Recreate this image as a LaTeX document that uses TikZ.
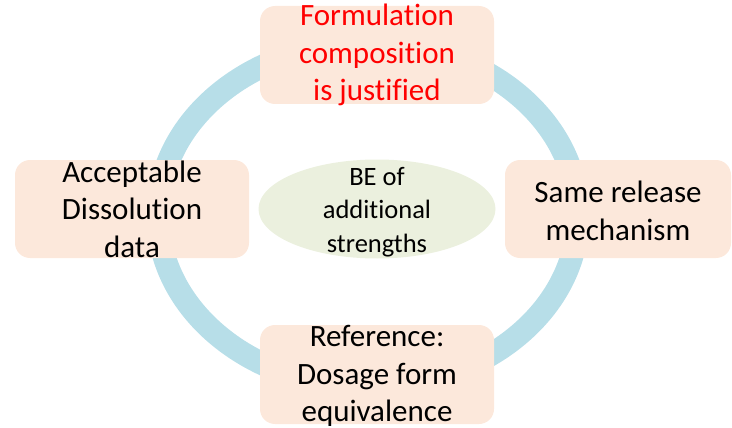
\documentclass[tikz,border=0pt]{standalone}
\usepackage{fontspec}
\setmainfont{Carlito}[Ligatures=NoCommon]
\usetikzlibrary{shapes.geometric}
\definecolor{ringblue}{RGB}{183,222,232}
\definecolor{peach}{RGB}{252,232,219}
\definecolor{sage}{RGB}{235,240,222}
\newcommand\stacklines[1]{\vbox{\halign{\hfil##\hfil\cr#1\crcr}}}
\begin{document}
\begin{tikzpicture}[x=1pt,y=-1pt,
  stepbox/.style={rectangle, rounded corners=15pt, fill=peach, inner sep=0pt,
    minimum width=234pt, minimum height=98pt, text depth=0pt,
    font=\fontsize{31}{37.5}\selectfont},
  hub/.style={ellipse, fill=sage, inner sep=0pt, minimum width=237pt, minimum height=99pt},
  hubtext/.style={inner sep=0pt, text depth=0pt, font=\fontsize{26.5}{33.5}\selectfont}]
\useasboundingbox (0,0) rectangle (732,428);
\draw[ringblue, line width=23pt] (368,215) ellipse [x radius=210pt, y radius=172pt];
\node[stepbox, text=red, text height=92pt] (form) at (377,55)
  {\stacklines{Formulation\cr composition\cr is justified}};
\node[stepbox, text height=96pt] (diss) at (132,209)
  {\stacklines{Acceptable\cr Dissolution\cr data}};
\node[stepbox, minimum width=226pt, text height=62pt] (mech) at (618,209)
  {\stacklines{Same release\cr mechanism}};
\node[stepbox, minimum height=99pt, text height=94pt] (ref) at (377,374.5)
  {\stacklines{Reference:\cr Dosage form\cr equivalence}};
\node[hub] (hub) at (377,209) {};
\node[hubtext, text height=86pt] (hubtxt) at (hub.center)
  {\stacklines{BE of\cr additional\cr strengths}};
\end{tikzpicture}
\end{document}
